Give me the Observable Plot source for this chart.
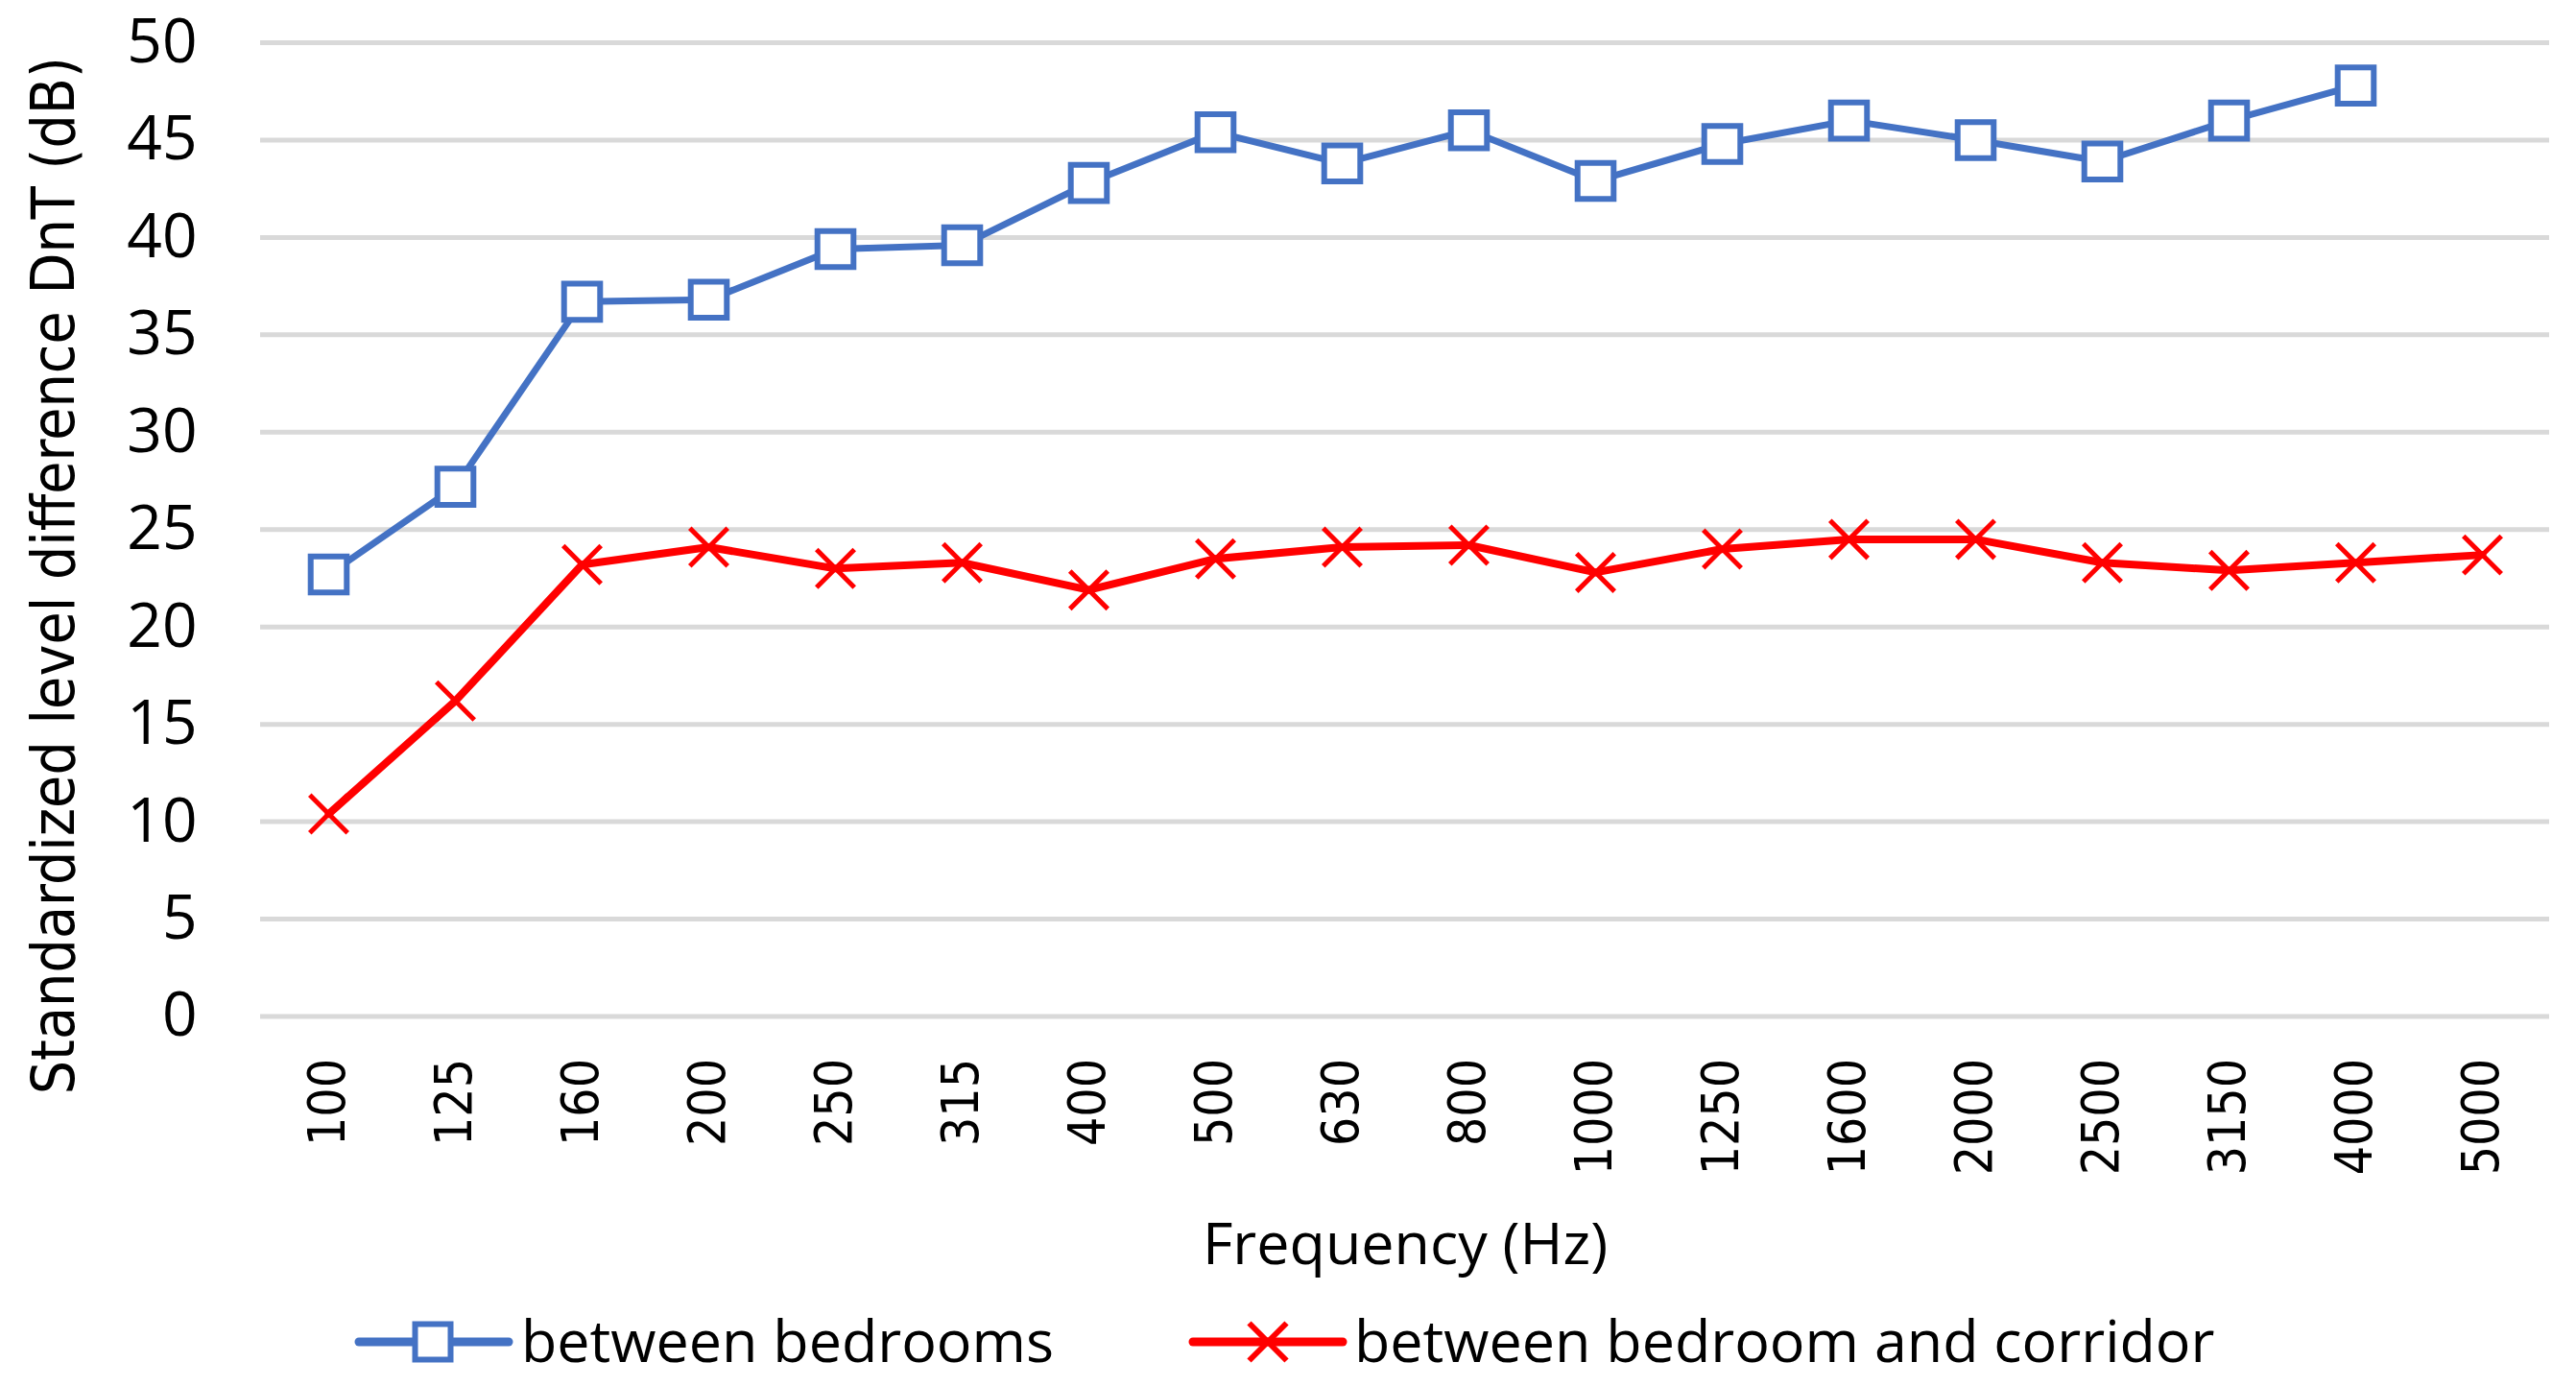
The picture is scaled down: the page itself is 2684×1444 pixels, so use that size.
<!DOCTYPE html>
<html>
<head>
<meta charset="utf-8">
<script src="https://cdn.jsdelivr.net/npm/d3@7"></script>
<script src="https://cdn.jsdelivr.net/npm/@observablehq/plot@0.6"></script>
<style>
  html, body { margin: 0; padding: 0; background: #fff; }
  #chart { width: 2684px; }
  #legend { position: relative; width: 2684px; height: 104px; font-family: "Open Sans", sans-serif; font-size: 61px; color: #000; }
  .sw { position: absolute; overflow: visible; }
  .lt { position: absolute; white-space: nowrap; line-height: 1; }
</style>
</head>
<body>
<div id="chart"></div>
<div id="legend"></div>
<script>
// ---- data ----
const frequencies = ["100","125","160","200","250","315","400","500","630","800","1000","1250","1600","2000","2500","3150","4000","5000"];
const betweenBedrooms = [22.7, 27.2, 36.7, 36.8, 39.4, 39.6, 42.8, 45.4, 43.8, 45.5, 42.9, 44.8, 46.0, 45.0, 43.9, 46.0, 47.8, null];
const bedroomCorridor = [10.4, 16.2, 23.2, 24.1, 23.0, 23.3, 21.9, 23.5, 24.1, 24.2, 22.8, 24.0, 24.5, 24.5, 23.3, 22.9, 23.3, 23.7];
const yTicks = [0, 5, 10, 15, 20, 25, 30, 35, 40, 45, 50];
const seriesNames = ["between bedrooms", "between bedroom and corridor"];
const seriesColors = ["#4472C4", "#FF0000"];
const xTitle = "Frequency (Hz)";
const yTitle = "Standardized level difference DnT (dB)";

const rowsBedrooms = frequencies.map((f, i) => ({freq: f, value: betweenBedrooms[i]}));
const rowsCorridor = frequencies.map((f, i) => ({freq: f, value: bedroomCorridor[i]}));

const W = 2684, H = 1340;
const plot = Plot.plot({
  width: W,
  height: H,
  marginTop: 44,
  marginBottom: H - 1058.5,
  marginLeft: 271,
  marginRight: 28,
  style: {fontFamily: "Open Sans, sans-serif", background: "white", color: "black", overflow: "visible"},
  x: {type: "point", domain: frequencies, padding: 0.5, align: 0.5},
  y: {domain: [0, 50]},
  marks: [
    Plot.ruleY(yTicks, {stroke: "#D9D9D9", strokeWidth: 5}),
    Plot.axisY({ticks: yTicks, tickSize: 0, tickPadding: 66, fontSize: 64, fontFamily: "Open Sans, sans-serif", label: null, tickFormat: d => String(d)}),
    Plot.axisX({tickSize: 0, tickPadding: 44, tickRotate: -90, fontSize: 53, fontFamily: "DejaVu Sans Condensed, DejaVu Sans, sans-serif", label: null}),
    Plot.text([yTitle], {frameAnchor: "left", dx: -214, dy: 48, rotate: -90, fontSize: 62, fontFamily: "DejaVu Sans Condensed, DejaVu Sans, sans-serif", textAnchor: "middle", lineAnchor: "middle", fill: "black"}),
    Plot.text([xTitle], {frameAnchor: "bottom", dy: 257.5, fontSize: 61, fontFamily: "Open Sans, sans-serif", lineAnchor: "bottom", textAnchor: "middle", fill: "black"}),
    Plot.line(rowsBedrooms, {x: "freq", y: "value", stroke: seriesColors[0], strokeWidth: 7, strokeLinejoin: "round"}),
    Plot.dot(rowsBedrooms, {x: "freq", y: "value", symbol: "square", r: 21.2, stroke: seriesColors[0], strokeWidth: 6, fill: "white"}),
    Plot.line(rowsCorridor, {x: "freq", y: "value", stroke: seriesColors[1], strokeWidth: 8, strokeLinejoin: "round"}),
    Plot.dot(rowsCorridor, {x: "freq", y: "value", symbol: "times", r: 18, stroke: seriesColors[1], strokeWidth: 5, fill: "none"})
  ]
});
document.getElementById("chart").appendChild(plot);

// ---- legend below the chart ----
const legend = d3.select("#legend");
const items = [
  {name: seriesNames[0], color: seriesColors[0], lineX: 374, markX: 451, textX: 543, kind: "square"},
  {name: seriesNames[1], color: seriesColors[1], lineX: 1243, markX: 1321, textX: 1411, kind: "times"}
];
const lineY = 58;
items.forEach(it => {
  const svg = legend.append("svg").attr("class", "sw")
    .attr("width", 170).attr("height", 80)
    .style("left", (it.lineX - 7) + "px").style("top", (lineY - 40) + "px");
  const cx = it.markX - it.lineX + 7;
  svg.append("line").attr("x1", 7).attr("x2", 163).attr("y1", 40).attr("y2", 40)
    .attr("stroke", it.color).attr("stroke-width", 9).attr("stroke-linecap", "round");
  if (it.kind === "square") {
    svg.append("rect").attr("x", cx - 18.5).attr("y", 40 - 18.5).attr("width", 37).attr("height", 37)
      .attr("fill", "white").attr("stroke", it.color).attr("stroke-width", 6);
  } else {
    const h = 19.5;
    svg.append("path").attr("d", `M${cx - h},${40 - h}L${cx + h},${40 + h}M${cx - h},${40 + h}L${cx + h},${40 - h}`)
      .attr("stroke", it.color).attr("stroke-width", 6).attr("fill", "none");
  }
  legend.append("div").attr("class", "lt")
    .style("left", it.textX + "px").style("top", "25px").text(it.name);
});
</script>
</body>
</html>
